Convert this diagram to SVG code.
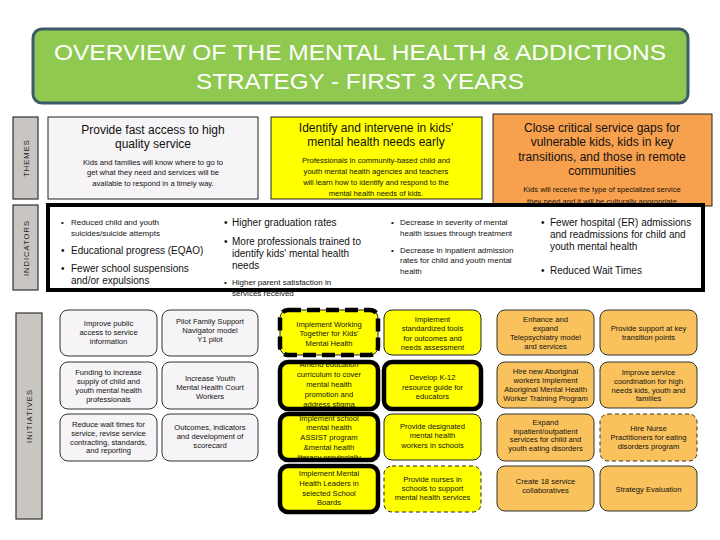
<svg xmlns="http://www.w3.org/2000/svg" width="720" height="540" viewBox="0 0 720 540">
<style>
text{font-family:"Liberation Sans",Arial,sans-serif;fill:#111;}
.title{font-size:22px;fill:#fff;text-anchor:middle;}
.side rect{fill:#c9c5c1;stroke:#333;stroke-width:1.2;}
.side text{font-size:7.6px;letter-spacing:1px;text-anchor:middle;fill:#222;}
.th{font-size:12px;text-anchor:middle;}
.ts{font-size:7.6px;text-anchor:middle;}
.ind{font-size:10px;}
.inds{font-size:8px;}
.n text{font-size:7.6px;text-anchor:middle;}
.g{fill:#f6f4f6;stroke:#333;stroke-width:1;}
.y{fill:#ffff00;stroke:#222;stroke-width:1;}
.o{fill:#f9c25c;stroke:#333;stroke-width:1;}
.thick{fill:none;stroke:#000;stroke-width:4.5;}
.dashthick{fill:none;stroke:#000;stroke-width:4.5;stroke-dasharray:13 6;}
.dash{stroke-dasharray:4 3;}
</style>
<rect width="720" height="540" fill="#fff"/>

<g id="title">
<rect x="33" y="29" width="655" height="74" rx="9" fill="#8fc94f" stroke="#3d5a6b" stroke-width="3"/>
<text class="title" x="360" y="60" textLength="612" lengthAdjust="spacingAndGlyphs">OVERVIEW OF THE MENTAL HEALTH &amp; ADDICTIONS</text>
<text class="title" x="360" y="89" textLength="328" lengthAdjust="spacingAndGlyphs">STRATEGY - FIRST 3 YEARS</text>
</g>

<g id="label-themes" class="side">
<rect x="13" y="117" width="25" height="82"/>
<text transform="translate(28.5 158) rotate(-90)">THEMES</text>
</g>
<g id="label-indicators" class="side">
<rect x="13" y="205" width="25" height="85"/>
<text transform="translate(28.5 248) rotate(-90)">INDICATORS</text>
</g>
<g id="label-initiatives" class="side">
<rect x="16" y="313" width="26" height="206"/>
<text transform="translate(32 416) rotate(-90)">INITIATIVES</text>
</g>

<g id="theme-access">
<rect x="48" y="117" width="210" height="82" fill="#f6f4f6" stroke="#222" stroke-width="1"/>
<text class="th" x="153" y="134">Provide fast access to high</text>
<text class="th" x="153" y="148">quality service</text>
<text class="ts" x="153" y="165">Kids and families will know where to go to</text>
<text class="ts" x="153" y="175">get what they need and services will be</text>
<text class="ts" x="153" y="186">available to respond in a timely way.</text>
</g>

<g id="theme-identify">
<rect x="271" y="117" width="211" height="82" fill="#ffff00" stroke="#222" stroke-width="1"/>
<text class="th" x="376" y="132">Identify and intervene in kids'</text>
<text class="th" x="376" y="146">mental health needs early</text>
<text class="ts" x="376" y="163">Professionals in community-based child and</text>
<text class="ts" x="376" y="174">youth mental health agencies and teachers</text>
<text class="ts" x="376" y="185">will learn how to identify and respond to the</text>
<text class="ts" x="376" y="196">mental health needs of kids.</text>
</g>

<g id="theme-gaps">
<rect x="493" y="114" width="219" height="92" fill="#f7a04d" stroke="#222" stroke-width="1"/>
<text class="th" x="602" y="132">Close critical service gaps for</text>
<text class="th" x="602" y="146">vulnerable kids, kids in key</text>
<text class="th" x="602" y="161">transitions, and those in remote</text>
<text class="th" x="602" y="175">communities</text>
<text class="ts" x="602" y="192">Kids will receive the type of specialized service</text>
<text class="ts" x="602" y="204">they need and it will be culturally appropriate</text>
</g>

<g id="indicators">
<rect x="48" y="205" width="655" height="85" fill="#fff" stroke="#000" stroke-width="4"/>
<g class="inds">
<text x="61" y="225">•</text><text x="71" y="225">Reduced child and youth</text>
<text x="71" y="236">suicides/suicide attempts</text>
</g>
<text class="ind" x="61" y="254">•</text><text class="ind" x="71" y="254">Educational progress (EQAO)</text>
<text class="ind" x="61" y="272">•</text><text class="ind" x="71" y="272">Fewer school suspensions</text>
<text class="ind" x="71" y="284">and/or expulsions</text>

<text class="ind" x="224" y="226">•</text><text class="ind" x="232" y="226">Higher graduation rates</text>
<text class="ind" x="224" y="245">•</text><text class="ind" x="232" y="245">More professionals trained to</text>
<text class="ind" x="232" y="257">identify kids' mental health</text>
<text class="ind" x="232" y="269">needs</text>
<text class="inds" x="224" y="285">•</text><text class="inds" x="232" y="285">Higher parent satisfaction in</text>
<text class="inds" x="232" y="296">services received</text>

<text class="inds" x="391" y="225">•</text><text class="inds" x="400" y="225">Decrease in severity of mental</text>
<text class="inds" x="400" y="236">health issues through treatment</text>
<text class="inds" x="391" y="253">•</text><text class="inds" x="400" y="253">Decrease in inpatient admission</text>
<text class="inds" x="400" y="263">rates for child and youth mental</text>
<text class="inds" x="400" y="274">health</text>

<text class="ind" x="541" y="226">•</text><text class="ind" x="550" y="226">Fewer hospital (ER) admissions</text>
<text class="ind" x="550" y="238">and readmissions for child and</text>
<text class="ind" x="550" y="250">youth mental health</text>
<text class="ind" x="541" y="274">•</text><text class="ind" x="550" y="274">Reduced Wait Times</text>
</g>

<g id="init-c1r1" class="n"><rect class="g" x="60" y="310" width="97" height="46" rx="8"/>
<text x="108.5" y="326">Improve public</text><text x="108.5" y="335">access to service</text><text x="108.5" y="344">information</text></g>
<g id="init-c2r1" class="n"><rect class="g" x="162" y="310" width="96" height="46" rx="8"/>
<text x="210" y="324">Pilot Family Support</text><text x="210" y="333">Navigator model</text><text x="210" y="342">Y1 pilot</text></g>
<g id="init-c1r2" class="n"><rect class="g" x="60" y="362" width="97" height="47" rx="8"/>
<text x="108.5" y="375">Funding to increase</text><text x="108.5" y="384">supply of child and</text><text x="108.5" y="393">youth mental health</text><text x="108.5" y="402">professionals</text></g>
<g id="init-c2r2" class="n"><rect class="g" x="162" y="362" width="96" height="47" rx="8"/>
<text x="210" y="381">Increase Youth</text><text x="210" y="390">Mental Health Court</text><text x="210" y="399">Workers</text></g>
<g id="init-c1r3" class="n"><rect class="g" x="60" y="414" width="97" height="47" rx="8"/>
<text x="108.5" y="427">Reduce wait times for</text><text x="108.5" y="436">service, revise service</text><text x="108.5" y="445">contracting, standards,</text><text x="108.5" y="453">and reporting</text></g>
<g id="init-c2r3" class="n"><rect class="g" x="162" y="414" width="96" height="47" rx="8"/>
<text x="210" y="430">Outcomes, indicators</text><text x="210" y="439">and development of</text><text x="210" y="448">scorecard</text></g>

<g id="init-c3r1" class="n"><rect class="y" x="280" y="310" width="98" height="45" rx="8" stroke="none"/>
<text x="329" y="327">Implement Working</text><text x="329" y="336">Together for Kids'</text><text x="329" y="346">Mental Health</text>
<rect class="dashthick" x="280" y="310" width="98" height="45" rx="8"/></g>
<g id="init-c4r1" class="n"><rect class="y" x="384" y="310" width="97" height="45" rx="8"/>
<text x="432.5" y="322">Implement</text><text x="432.5" y="331">standardized tools</text><text x="432.5" y="341">for outcomes and</text><text x="432.5" y="350">needs assessment</text></g>
<g id="init-c3r2" class="n"><rect class="y" x="280" y="362" width="98" height="47" rx="8" stroke="none"/>
<text x="329" y="367">Amend education</text><text x="329" y="377">curriculum to cover</text><text x="329" y="387">mental health</text><text x="329" y="397">promotion and</text><text x="329" y="407">address stigma</text>
<rect class="thick" x="280" y="362" width="98" height="47" rx="8"/></g>
<g id="init-c4r2" class="n"><rect class="y" x="384" y="362" width="97" height="47" rx="8" stroke="none"/>
<text x="432.5" y="380">Develop K-12</text><text x="432.5" y="390">resource  guide for</text><text x="432.5" y="399">educators</text>
<rect class="thick" x="384" y="362" width="97" height="47" rx="8"/></g>
<g id="init-c3r3" class="n"><rect class="y" x="280" y="414" width="98" height="46" rx="8" stroke="none"/>
<text x="329" y="421">Implement school</text><text x="329" y="430">mental health</text><text x="329" y="440">ASSIST program</text><text x="329" y="450">&amp;mental health</text><text x="329" y="460">literacy provincially</text>
<rect class="thick" x="280" y="414" width="98" height="46" rx="8"/></g>
<g id="init-c4r3" class="n"><rect class="y" x="384" y="414" width="97" height="46" rx="8"/>
<text x="432.5" y="429">Provide designated</text><text x="432.5" y="438">mental health</text><text x="432.5" y="448">workers in schools</text></g>
<g id="init-c3r4" class="n"><rect class="y" x="280" y="466" width="98" height="46" rx="8" stroke="none"/>
<text x="329" y="476">Implement Mental</text><text x="329" y="486">Health Leaders in</text><text x="329" y="496">selected School</text><text x="329" y="505">Boards</text>
<rect class="thick" x="280" y="466" width="98" height="46" rx="8"/></g>
<g id="init-c4r4" class="n"><rect class="y dash" x="384" y="466" width="97" height="46" rx="8"/>
<text x="432.5" y="482">Provide nurses in</text><text x="432.5" y="491">schools to support</text><text x="432.5" y="500">mental health services</text></g>

<g id="init-c5r1" class="n"><rect class="o" x="497" y="310" width="97" height="45" rx="8"/>
<text x="545.5" y="322">Enhance and</text><text x="545.5" y="331">expand</text><text x="545.5" y="340">Telepsychiatry model</text><text x="545.5" y="349">and services</text></g>
<g id="init-c6r1" class="n"><rect class="o" x="600" y="310" width="97" height="45" rx="8"/>
<text x="648.5" y="331">Provide support at key</text><text x="648.5" y="340">transition points</text></g>
<g id="init-c5r2" class="n"><rect class="o" x="497" y="362" width="97" height="46" rx="8"/>
<text x="545.5" y="374">Hire new Aboriginal</text><text x="545.5" y="383">workers Implement</text><text x="545.5" y="392">Aboriginal Mental Health</text><text x="545.5" y="401">Worker Training Program</text></g>
<g id="init-c6r2" class="n"><rect class="o" x="600" y="362" width="97" height="46" rx="8"/>
<text x="648.5" y="375">Improve service</text><text x="648.5" y="384">coordination for high</text><text x="648.5" y="393">needs kids, youth and</text><text x="648.5" y="401">families</text></g>
<g id="init-c5r3" class="n"><rect class="o" x="497" y="414" width="97" height="47" rx="8"/>
<text x="545.5" y="425">Expand</text><text x="545.5" y="434">inpatient/outpatient</text><text x="545.5" y="442">services for child and</text><text x="545.5" y="451">youth eating disorders</text></g>
<g id="init-c6r3" class="n"><rect class="o dash" x="600" y="414" width="97" height="47" rx="8"/>
<text x="648.5" y="431">Hire Nurse</text><text x="648.5" y="440">Practitioners for eating</text><text x="648.5" y="449">disorders program</text></g>
<g id="init-c5r4" class="n"><rect class="o" x="497" y="466" width="97" height="45" rx="8"/>
<text x="545.5" y="484">Create 18 service</text><text x="545.5" y="493">collaboratives</text></g>
<g id="init-c6r4" class="n"><rect class="o" x="600" y="466" width="97" height="45" rx="8"/>
<text x="648.5" y="492">Strategy Evaluation</text></g>

<g id="connectors"></g>
</svg>
